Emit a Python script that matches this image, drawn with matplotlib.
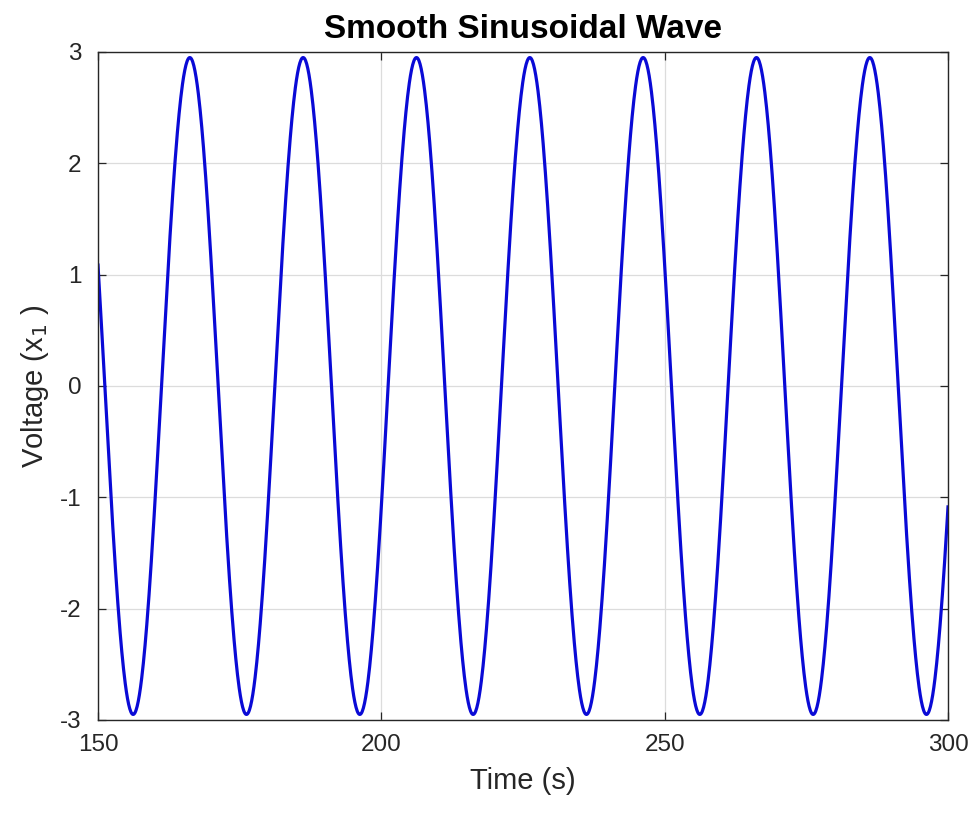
#!/usr/bin/env python3
# coding: utf-8

import numpy as np
import matplotlib.pyplot as plt

# wave
t_start, t_end = 150, 300
amplitude = 2.95      # peaks sit just under 3
period = 20.0         # s, peak to peak
first_peak = 166.2    # s
n_samples = 1500

x_ticks = [150, 200, 250, 300]
y_ticks = [-3, -2, -1, 0, 1, 2, 3]


def main():
    plt.rcParams['font.family'] = ['Liberation Sans', 'DejaVu Sans']
    plt.rcParams['axes.unicode_minus'] = False

    t = np.linspace(t_start, t_end, n_samples)
    v = amplitude * np.cos(2 * np.pi * (t - first_peak) / period)

    fig = plt.figure(figsize=(9.73, 8.17), dpi=100)
    ax = fig.add_axes([98 / 973, 1 - 720 / 817, 850 / 973, 668 / 817])

    ax.plot(t, v, color='#0a0ad6', lw=2.3)

    ax.set_xlim(t_start, t_end)
    ax.set_ylim(-3, 3)
    ax.set_xticks(x_ticks)
    ax.set_yticks(y_ticks)
    ax.grid(True, color='#dcdcdc', lw=0.9)
    ax.set_axisbelow(True)

    ax.tick_params(direction='in', length=6, width=0.9, top=True, right=True,
                   labelsize=17.5, colors='#262626', pad=10)
    ax.tick_params(axis='y', pad=12)
    for s in ax.spines.values():
        s.set_color('#262626')
        s.set_linewidth(1.0)

    ax.set_title('Smooth Sinusoidal Wave', fontsize=24, fontweight='bold', pad=10)
    ax.set_xlabel('Time (s)', fontsize=21, color='#262626', labelpad=8)
    ax.set_ylabel('Voltage (x$_1$ )', fontsize=21, color='#262626', labelpad=6)

    fig.savefig('out.png', dpi=100)


if __name__ == '__main__':
    main()
